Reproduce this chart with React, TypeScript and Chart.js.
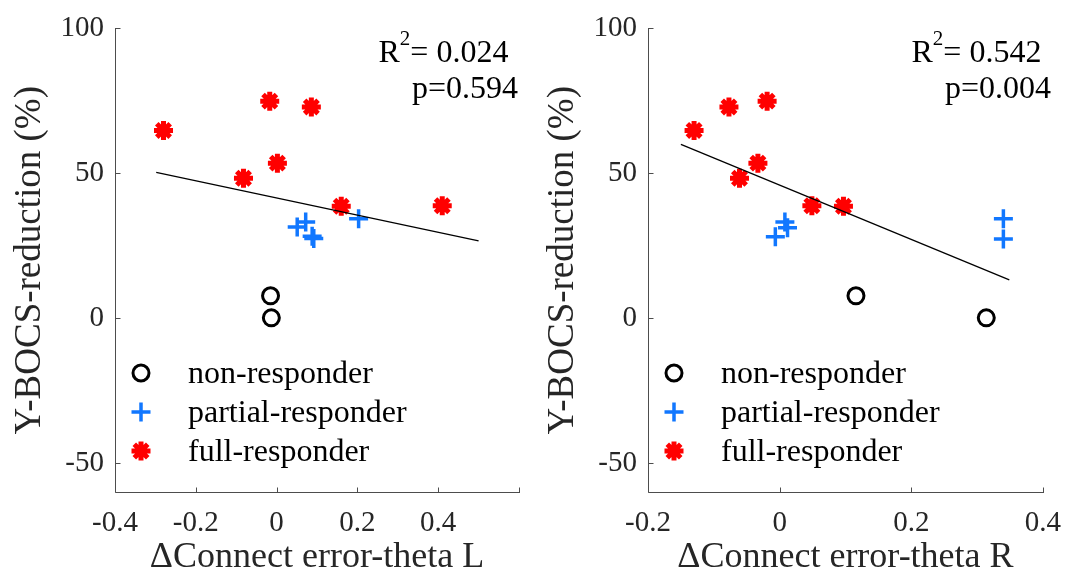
import React, { useEffect, useRef } from 'react';
import { Chart, registerables } from 'chart.js';

Chart.register(...registerables);

// ---------- data ----------
const Y_TICKS = [-50, 0, 50, 100];
const X_TICKS_L = [-0.4, -0.2, 0, 0.2, 0.4];
const X_TICKS_R = [-0.2, 0, 0.2, 0.4];

const LEGEND_LABELS = ['non-responder', 'partial-responder', 'full-responder'];
const Y_TITLE = 'Y-BOCS-reduction (%)';
const X_TITLE_L = '\u0394Connect error-theta L';
const X_TITLE_R = '\u0394Connect error-theta R';

// left panel
const NON_L_X = [-0.015, -0.013];
const NON_L_Y = [7.7, 0.1];
const PART_L_X = [0.051, 0.072, 0.088, 0.092, 0.203];
const PART_L_Y = [31.5, 33.2, 28.3, 27.5, 34.3];
const FULL_L_X = [-0.28, -0.017, 0.086, 0.002, -0.082, 0.16, 0.41];
const FULL_L_Y = [64.8, 74.9, 72.9, 53.5, 48.3, 38.6, 38.8];
const FIT_L_X = [-0.298, 0.5];
const FIT_L_Y = [50.3, 26.7];
const R2_L = '0.024';
const P_L = '0.594';

// right panel
const NON_R_X = [0.116, 0.314];
const NON_R_Y = [7.7, 0.1];
const PART_R_X = [-0.0065, 0.008, 0.012, 0.34, 0.34];
const PART_R_Y = [28.1, 33.2, 31.2, 34.3, 27.3];
const FULL_R_X = [-0.13, -0.077, -0.019, -0.033, -0.061, 0.049, 0.097];
const FULL_R_Y = [64.8, 72.9, 74.9, 53.5, 48.3, 38.8, 38.6];
const FIT_R_X = [-0.15, 0.349];
const FIT_R_Y = [60.0, 13.2];
const R2_R = '0.542';
const P_R = '0.004';

// ---------- styles ----------
const SERIF = '"Liberation Serif", "Times New Roman", Tinos, serif';
const AXIS_COLOR = '#4d4d4d';
const TICK_TEXT = '#262626';
const BLUE = '#1177ff';
const RED = '#ff0000';

Chart.defaults.font.family = SERIF;

const pts = (xs: number[], ys: number[]) => xs.map((x, i) => ({ x, y: ys[i] }));
const fmt = (v: number) => String(Number(Number(v).toFixed(2)));

function drawMarker(ctx: CanvasRenderingContext2D, kind: number, x: number, y: number) {
  ctx.save();
  if (kind === 0) {
    ctx.strokeStyle = '#000';
    ctx.lineWidth = 3;
    ctx.beginPath();
    ctx.arc(x, y, 8, 0, Math.PI * 2);
    ctx.stroke();
  } else if (kind === 1) {
    ctx.strokeStyle = BLUE;
    ctx.lineWidth = 3.5;
    ctx.beginPath();
    ctx.moveTo(x - 9.5, y); ctx.lineTo(x + 9.5, y);
    ctx.moveTo(x, y - 9.5); ctx.lineTo(x, y + 9.5);
    ctx.stroke();
  } else {
    ctx.strokeStyle = RED;
    ctx.lineWidth = 5;
    const r = 9.5;
    const d = r * Math.SQRT1_2;
    ctx.beginPath();
    ctx.moveTo(x - r, y); ctx.lineTo(x + r, y);
    ctx.moveTo(x, y - r); ctx.lineTo(x, y + r);
    ctx.moveTo(x - d, y - d); ctx.lineTo(x + d, y + d);
    ctx.moveTo(x - d, y + d); ctx.lineTo(x + d, y - d);
    ctx.stroke();
  }
  ctx.restore();
}

interface PanelCfg {
  left: number;
  width: number;
  padRight: number;
  yAxisWidth: number;
  yTitlePad: number;
  xMin: number;
  xMax: number;
  xTicks: number[];
  xTitle: string;
  non: { x: number; y: number }[];
  part: { x: number; y: number }[];
  full: { x: number; y: number }[];
  fit: { x: number; y: number }[];
  r2: string;
  p: string;
}

function makeDeco(cfg: PanelCfg) {
  return {
    id: 'deco',
    afterDraw(chart: any) {
      const { ctx, chartArea: a, scales } = chart;
      const xs = scales.x;
      const ys = scales.y;
      ctx.save();
      ctx.strokeStyle = AXIS_COLOR;
      ctx.lineWidth = 1;
      const lx = Math.round(a.left) + 0.5;
      const by = Math.round(a.bottom) + 0.5;
      ctx.beginPath();
      ctx.moveTo(lx, Math.round(a.top));
      ctx.lineTo(lx, by);
      ctx.lineTo(Math.round(a.right) + 1, by);
      const tl = 5;
      for (const v of Y_TICKS) {
        const py = Math.round(ys.getPixelForValue(v)) + 0.5;
        ctx.moveTo(lx, py);
        ctx.lineTo(lx + tl, py);
      }
      const xt = [...cfg.xTicks];
      if (!xt.some((v) => Math.abs(v - cfg.xMax) < 1e-9)) xt.push(cfg.xMax);
      for (const v of xt) {
        const px = Math.round(xs.getPixelForValue(v)) + 0.5;
        ctx.moveTo(px, by);
        ctx.lineTo(px, by - tl);
      }
      ctx.stroke();

      ctx.fillStyle = '#000';
      ctx.textBaseline = 'alphabetic';
      ctx.textAlign = 'left';
      const big = `32px ${SERIF}`;
      const small = `21px ${SERIF}`;
      let x1 = a.left + 263.5;
      ctx.font = big;
      ctx.fillText('R', x1, 61.7);
      x1 += ctx.measureText('R').width;
      ctx.font = small;
      ctx.fillText('2', x1, 45);
      x1 += ctx.measureText('2').width;
      ctx.font = big;
      ctx.fillText('= ' + cfg.r2, x1, 61.7);
      ctx.fillText('p=' + cfg.p, a.left + 297, 98.3);

      const rows = [373, 412, 451];
      rows.forEach((ry, i) => {
        drawMarker(ctx, i, a.left + 26, ry);
        ctx.fillStyle = '#000';
        ctx.font = big;
        ctx.fillText(LEGEND_LABELS[i], a.left + 73, ry + 10);
      });
      ctx.restore();
    },
  };
}

function Panel({ cfg }: { cfg: PanelCfg }) {
  const ref = useRef<HTMLCanvasElement>(null);
  useEffect(() => {
    const canvas = ref.current!;
    const chart = new Chart(canvas, {
      type: 'scatter',
      data: {
        datasets: [
          {
            label: 'fit',
            data: cfg.fit,
            showLine: true,
            pointRadius: 0,
            borderColor: '#000',
            borderWidth: 1.3,
            backgroundColor: '#000',
          } as any,
          {
            label: LEGEND_LABELS[0],
            data: cfg.non,
            pointStyle: 'circle',
            pointRadius: 8,
            borderColor: '#000',
            backgroundColor: 'rgba(0,0,0,0)',
            borderWidth: 3,
          },
          {
            label: LEGEND_LABELS[1],
            data: cfg.part,
            pointStyle: 'cross',
            pointRadius: 9.5,
            borderColor: BLUE,
            backgroundColor: BLUE,
            borderWidth: 3.5,
          },
          {
            label: LEGEND_LABELS[2],
            data: cfg.full,
            pointStyle: 'star',
            pointRadius: 9.5,
            borderColor: RED,
            backgroundColor: RED,
            borderWidth: 5,
          },
        ],
      },
      options: {
        responsive: false,
        animation: false,
        devicePixelRatio: 1,
        events: [],
        layout: { padding: { left: 0, right: cfg.padRight, top: 24, bottom: 0 } },
        plugins: { legend: { display: false }, tooltip: { enabled: false } },
        scales: {
          x: {
            type: 'linear',
            min: cfg.xMin,
            max: cfg.xMax,
            afterBuildTicks: (s: any) => {
              s.ticks = cfg.xTicks.map((value) => ({ value }));
            },
            afterFit: (s: any) => {
              s.height = 87;
            },
            grid: { display: false, drawTicks: false },
            border: { display: false },
            ticks: {
              font: { family: SERIF, size: 29 },
              color: TICK_TEXT,
              padding: 14,
              maxRotation: 0,
              autoSkip: false,
              callback: (v: any) => fmt(v),
            },
            title: {
              display: true,
              text: cfg.xTitle,
              font: { family: SERIF, size: 36 },
              color: TICK_TEXT,
              padding: { top: 0, bottom: 0 },
            },
          },
          y: {
            type: 'linear',
            min: -60,
            max: 100,
            afterBuildTicks: (s: any) => {
              s.ticks = Y_TICKS.map((value) => ({ value }));
            },
            afterFit: (s: any) => {
              s.width = cfg.yAxisWidth;
            },
            grid: { display: false, drawTicks: false },
            border: { display: false },
            ticks: {
              font: { family: SERIF, size: 29 },
              color: TICK_TEXT,
              padding: 11,
              autoSkip: false,
              callback: (v: any) => fmt(v),
            },
            title: {
              display: true,
              text: Y_TITLE,
              font: { family: SERIF, size: 37 },
              color: TICK_TEXT,
              padding: { top: cfg.yTitlePad, bottom: 0 },
            },
          },
        },
      },
      plugins: [makeDeco(cfg)],
    } as any);
    let alive = true;
    const fonts: any = (document as any).fonts;
    if (fonts && fonts.load) {
      Promise.all([
        fonts.load('32px "Liberation Serif"'),
        fonts.load('29px "Liberation Serif"'),
      ])
        .then(() => fonts.ready)
        .then(() => {
          if (alive) chart.update();
        })
        .catch(() => {});
    }
    return () => {
      alive = false;
      chart.destroy();
    };
  }, [cfg]);
  return (
    <canvas
      ref={ref}
      width={cfg.width}
      height={579}
      style={{ position: 'absolute', left: cfg.left, top: 0, width: cfg.width, height: 579 }}
    />
  );
}

const LEFT: PanelCfg = {
  left: 0,
  width: 537,
  padRight: 18,
  yAxisWidth: 115,
  yTitlePad: 8.5,
  xMin: -0.4,
  xMax: 0.6,
  xTicks: X_TICKS_L,
  xTitle: X_TITLE_L,
  non: pts(NON_L_X, NON_L_Y),
  part: pts(PART_L_X, PART_L_Y),
  full: pts(FULL_L_X, FULL_L_Y),
  fit: pts(FIT_L_X, FIT_L_Y),
  r2: R2_L,
  p: P_L,
};

const RIGHT: PanelCfg = {
  left: 537,
  width: 538,
  padRight: 23,
  yAxisWidth: 111,
  yTitlePad: 4.3,
  xMin: -0.2,
  xMax: 0.4,
  xTicks: X_TICKS_R,
  xTitle: X_TITLE_R,
  non: pts(NON_R_X, NON_R_Y),
  part: pts(PART_R_X, PART_R_Y),
  full: pts(FULL_R_X, FULL_R_Y),
  fit: pts(FIT_R_X, FIT_R_Y),
  r2: R2_R,
  p: P_R,
};

export default function App() {
  return (
    <div style={{ position: 'absolute', left: 0, top: 0, width: 1075, height: 579, background: '#fff', overflow: 'hidden' }}>
      <Panel cfg={LEFT} />
      <Panel cfg={RIGHT} />
    </div>
  );
}
